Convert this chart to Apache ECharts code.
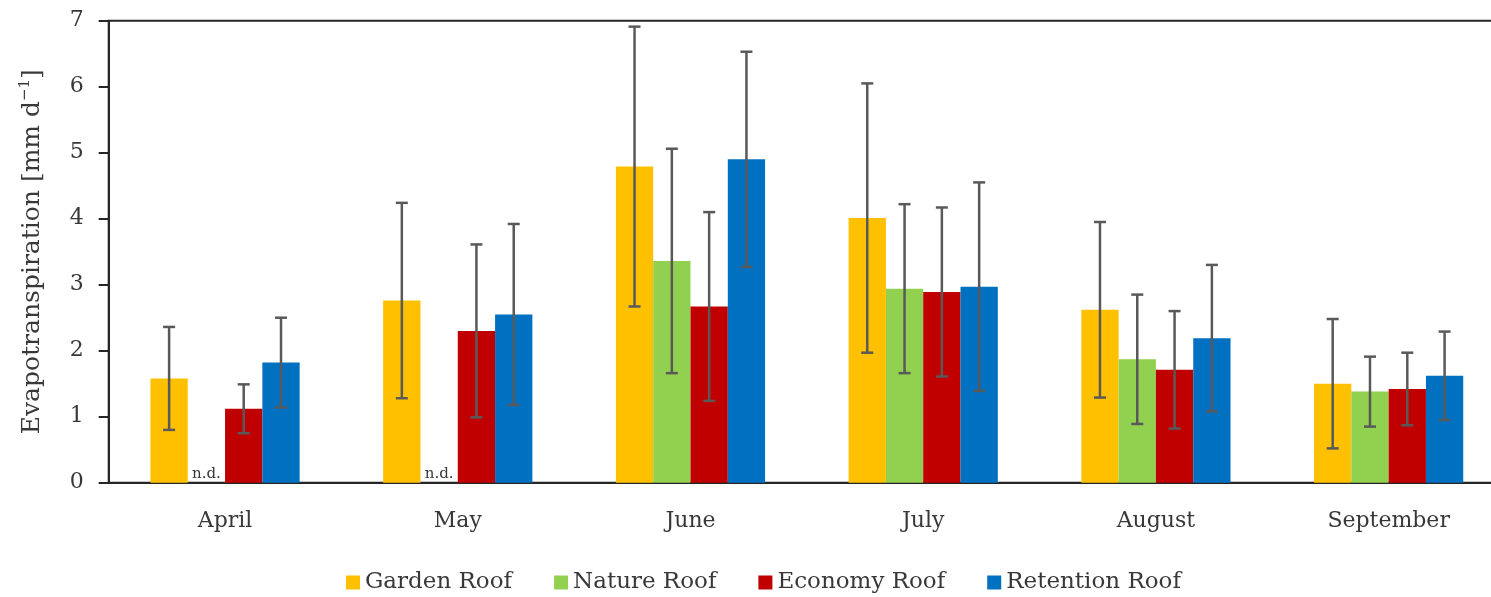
<!DOCTYPE html>
<html>
<head>
<meta charset="utf-8">
<script src="https://cdn.jsdelivr.net/npm/echarts@6/dist/echarts.min.js"></script>
<style>
html,body{margin:0;padding:0;background:#fff;overflow:hidden;}
#chart{width:1505px;height:597px;}
</style>
</head>
<body>
<div id="chart"></div>
<script>
// ---- data ----
const months = ['April', 'May', 'June', 'July', 'August', 'September'];
const seriesNames = ['Garden Roof', 'Nature Roof', 'Economy Roof', 'Retention Roof'];
const gardenMean    = [1.58, 2.76, 4.79, 4.01, 2.62, 1.50];
const gardenSD      = [0.78, 1.48, 2.12, 2.04, 1.33, 0.98];
const natureMean    = [null, null, 3.36, 2.94, 1.87, 1.38];
const natureSD      = [null, null, 1.70, 1.28, 0.98, 0.53];
const economyMean   = [1.12, 2.30, 2.67, 2.89, 1.71, 1.42];
const economySD     = [0.37, 1.31, 1.43, 1.28, 0.89, 0.55];
const retentionMean = [1.82, 2.55, 4.90, 2.97, 2.19, 1.62];
const retentionSD   = [0.68, 1.37, 1.63, 1.58, 1.11, 0.67];
const yTicks = [0, 1, 2, 3, 4, 5, 6, 7];
const ndLabel = 'n.d.';

// ---- style ----
const colors = ['#FFC000', '#92D050', '#C00000', '#0070C0'];
const FONT = 'DejaVu Serif';
const TXT = '#383838';
const AX = '#262626';
const BAR_W = 37.3;

const means = [gardenMean, natureMean, economyMean, retentionMean];
const sds = [gardenSD, natureSD, economySD, retentionSD];

const series = [];
means.forEach((arr, k) => {
  series.push({
    name: seriesNames[k],
    type: 'bar',
    xAxisIndex: 0,
    barWidth: BAR_W,
    barGap: '0%',
    itemStyle: { color: colors[k] },
    data: arr.map(v => v === null ? {
      value: 0,
      label: { show: true, position: 'top', distance: 1, formatter: ndLabel,
               fontFamily: FONT, fontSize: 15, color: TXT }
    } : v),
    z: 2
  });
});
means.forEach((arr, k) => {
  const offset = (k - 1.5) * BAR_W;
  series.push({
    type: 'custom',
    xAxisIndex: 0,
    z: 5,
    silent: true,
    data: arr.map((v, i) => v === null ? null : [i, v, sds[k][i]]).filter(d => d),
    renderItem: function (params, api) {
      const i = api.value(0), m = api.value(1), s = api.value(2);
      const t = api.coord([i, m + s]);
      const b = api.coord([i, m - s]);
      const x = t[0] + offset;
      const h = 6;
      const st = { stroke: '#595959', lineWidth: 2.5 };
      return {
        type: 'group',
        children: [
          { type: 'line', shape: { x1: x, y1: t[1], x2: x, y2: b[1] }, style: st },
          { type: 'line', shape: { x1: x - h, y1: t[1], x2: x + h, y2: t[1] }, style: st },
          { type: 'line', shape: { x1: x - h, y1: b[1], x2: x + h, y2: b[1] }, style: st }
        ]
      };
    }
  });
});

const chart = echarts.init(document.getElementById('chart'), null, { renderer: 'canvas' });
chart.setOption({
  animation: false,
  backgroundColor: '#fff',
  textStyle: { fontFamily: FONT },
  grid: {
    left: 108.7, right: 0, top: 20.7, bottom: 114.3,
    show: true, borderColor: AX, borderWidth: 2, backgroundColor: 'transparent'
  },
  legend: {
    data: seriesNames,
    left: 346,
    top: 571,
    padding: 0,
    icon: 'rect',
    itemWidth: 14,
    itemHeight: 14,
    itemGap: 42,
    textStyle: { fontFamily: FONT, fontSize: 23, color: TXT }
  },
  xAxis: [{
    type: 'category',
    data: months,
    axisLine: { show: true, lineStyle: { color: AX, width: 2 } },
    axisTick: { show: false },
    axisLabel: { fontFamily: FONT, fontSize: 22, color: TXT, margin: 28 }
  }],
  yAxis: {
    type: 'value',
    min: yTicks[0],
    max: yTicks[yTicks.length - 1],
    interval: 1,
    name: 'Evapotranspiration [mm d{sup|−1}]',
    nameLocation: 'middle',
    nameGap: 61,
    nameTextStyle: {
      fontFamily: FONT, fontSize: 25, color: TXT, lineHeight: 30,
      rich: { sup: { fontFamily: FONT, fontSize: 15, color: TXT, verticalAlign: 'top', lineHeight: 30 } }
    },
    axisLine: { show: true, lineStyle: { color: AX, width: 2 } },
    axisTick: { show: true, length: 10, lineStyle: { color: AX, width: 2 } },
    axisLabel: { fontFamily: FONT, fontSize: 22, color: TXT, margin: 25 },
    splitLine: { show: false }
  },
  series: series
});
</script>
</body>
</html>
